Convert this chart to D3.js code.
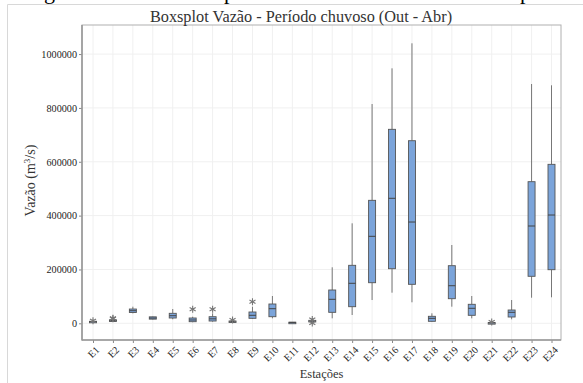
<!DOCTYPE html>
<html>
<head>
<meta charset="utf-8">
<script src="https://cdn.jsdelivr.net/npm/d3@7"></script>
<style>
  html, body { margin: 0; padding: 0; background: #fff; }
  svg { display: block; }
</style>
</head>
<body>
<svg id="chart" width="583" height="383"></svg>
<script>
// Stations and five-number summaries (whisker low, Q1, median, Q3, whisker high)
const stations = ["E1","E2","E3","E4","E5","E6","E7","E8","E9","E10","E11","E12",
                  "E13","E14","E15","E16","E17","E18","E19","E20","E21","E22","E23","E24"];
const whiskerLow  = [5000, 5000, 37000, 14000, 15000, 4000, 6000, 4000, 16000, 18500, 2500, 2000,
                     18500, 30800, 86500, 113700, 78000, 5000, 61700, 18500, 1000, 14900, 95100, 96600];
const q1          = [6000, 7000, 40000, 15500, 19700, 6000, 8500, 5500, 18500, 24500, 3000, 5000,
                     40800, 61700, 150800, 202800, 144800, 7400, 91400, 29700, 1500, 23400, 174600, 199100];
const median      = [6500, 10000, 46800, 19500, 28200, 12300, 16600, 7000, 29700, 54300, 3500, 8000,
                     89100, 148600, 323100, 464300, 376200, 18500, 139600, 55700, 2000, 40800, 361400, 402200];
const q3          = [7500, 13000, 53000, 24000, 37100, 19700, 24500, 8500, 42000, 71700, 4000, 11000,
                     123700, 215400, 456800, 720500, 678200, 26000, 214000, 70600, 2500, 49400, 526000, 590500];
const whiskerHigh = [8000, 15000, 61700, 25500, 53100, 24500, 37100, 10000, 61700, 101400, 4500, 13000,
                     208000, 371400, 814500, 947100, 1040000, 37100, 290800, 101400, 3000, 86500, 888800, 884000];
const outliers    = [[9500], [18500, 17000], [], [], [], [52000], [52000], [12300], [80300], [], [], [14500, 1000],
                     [], [], [], [], [], [], [], [], [4800], [], [], []];
const yTicks = [0, 200000, 400000, 600000, 800000, 1000000];

const boxes = stations.map((s, i) => ({
  name: s, lo: whiskerLow[i], q1: q1[i], med: median[i], q3: q3[i], hi: whiskerHigh[i], out: outliers[i]
}));

const svg = d3.select("#chart");
const serif = "'Liberation Serif', 'Times New Roman', serif";

// Page frame and the descenders of the caption line running above the figure
svg.append("line").attr("x1", 7.5).attr("x2", 583).attr("y1", 4.5).attr("y2", 4.5)
  .attr("stroke", "#d8d8d8");
svg.append("line").attr("x1", 7.5).attr("x2", 7.5).attr("y1", 4.5).attr("y2", 383)
  .attr("stroke", "#d8d8d8");
svg.append("g").selectAll("text").data([["g", 44], ["p", 224], ["p", 520]]).join("text")
  .attr("x", d => d[1]).attr("y", -1)
  .attr("font-family", serif).attr("font-size", 22).attr("fill", "#000")
  .text(d => d[0]);

const panel = { left: 82, right: 561, top: 25, bottom: 340 };

const x = d3.scalePoint().domain(stations).range([93, 551.5]);
const y = d3.scaleLinear().domain([-62000, 1108000]).range([panel.bottom, panel.top]);

// Grid
const grid = svg.append("g");
grid.selectAll(".vg").data(stations).join("line")
  .attr("x1", d => x(d)).attr("x2", d => x(d))
  .attr("y1", panel.top).attr("y2", panel.bottom)
  .attr("stroke", "#f0f0f0").attr("stroke-width", 1);
grid.selectAll(".hg").data(yTicks).join("line")
  .attr("x1", panel.left).attr("x2", panel.right)
  .attr("y1", d => y(d)).attr("y2", d => y(d))
  .attr("stroke", "#f0f0f0").attr("stroke-width", 1);

// Panel border
svg.append("rect")
  .attr("x", panel.left).attr("y", panel.top)
  .attr("width", panel.right - panel.left).attr("height", panel.bottom - panel.top)
  .attr("fill", "none").attr("stroke", "#b0b0b0").attr("stroke-width", 1);

// Axes
const yAxis = svg.append("g").attr("transform", `translate(${panel.left},0)`)
  .call(d3.axisLeft(y).tickValues(yTicks).tickFormat(d3.format("d")).tickSize(3).tickPadding(2));
const xAxis = svg.append("g").attr("transform", `translate(0,${panel.bottom})`)
  .call(d3.axisBottom(x).tickSize(3).tickPadding(2));
[yAxis, xAxis].forEach(a => {
  a.select(".domain").remove();
  a.selectAll(".tick line").attr("stroke", "#888");
  a.selectAll("text").attr("font-family", serif).attr("font-size", 10.2).attr("fill", "#222");
});
xAxis.selectAll("text")
  .attr("text-anchor", "end")
  .attr("x", 0).attr("y", 0)
  .attr("dy", "0.35em")
  .attr("transform", "translate(4,8) rotate(-45)");

svg.append("line").attr("x1", panel.left).attr("x2", panel.left)
  .attr("y1", panel.top).attr("y2", panel.bottom + 0.5)
  .attr("stroke", "#999").attr("stroke-width", 1.6);
svg.append("line").attr("x1", panel.left).attr("x2", panel.right)
  .attr("y1", panel.bottom).attr("y2", panel.bottom)
  .attr("stroke", "#999").attr("stroke-width", 1.6);

// Box plots
const bw = 7;
const g = svg.append("g").selectAll("g").data(boxes).join("g")
  .attr("transform", d => `translate(${x(d.name)},0)`);
g.append("line").attr("x1", 0).attr("x2", 0)
  .attr("y1", d => y(d.hi)).attr("y2", d => y(d.q3))
  .attr("stroke", "#777").attr("stroke-width", 1);
g.append("line").attr("x1", 0).attr("x2", 0)
  .attr("y1", d => y(d.q1)).attr("y2", d => y(d.lo))
  .attr("stroke", "#777").attr("stroke-width", 1);
g.append("rect")
  .attr("x", -bw / 2).attr("width", bw)
  .attr("y", d => y(d.q3)).attr("height", d => Math.max(1.5, y(d.q1) - y(d.q3)))
  .attr("fill", "#7ba4da").attr("stroke", "#555").attr("stroke-width", 0.9);
g.append("line")
  .attr("x1", -bw / 2).attr("x2", bw / 2)
  .attr("y1", d => y(d.med)).attr("y2", d => y(d.med))
  .attr("stroke", "#444").attr("stroke-width", 1);
g.selectAll("path.out").data(d => d.out).join("path")
  .attr("class", "out")
  .attr("transform", v => `translate(0,${y(v)})`)
  .attr("d", d3.symbol(d3.symbolAsterisk, 34))
  .attr("fill", "none").attr("stroke", "#777").attr("stroke-width", 1.1);

// Titles
svg.append("text").attr("x", 301).attr("y", 22)
  .attr("text-anchor", "middle").attr("font-family", serif).attr("font-size", 16.3)
  .attr("fill", "#333").text("Boxsplot Vazão - Período chuvoso (Out - Abr)");
svg.append("text").attr("x", (panel.left + panel.right) / 2).attr("y", 378)
  .attr("text-anchor", "middle").attr("font-family", serif).attr("font-size", 12.5)
  .attr("fill", "#333").text("Estações");
svg.append("text")
  .attr("transform", `translate(35,${(panel.top + panel.bottom) / 2 - 2}) rotate(-90)`)
  .attr("text-anchor", "middle").attr("font-family", serif).attr("font-size", 14)
  .attr("fill", "#333")
  .html("Vazão (m<tspan dy='-5' font-size='9'>3</tspan><tspan dy='5'>/s)</tspan>");
</script>
</body>
</html>
